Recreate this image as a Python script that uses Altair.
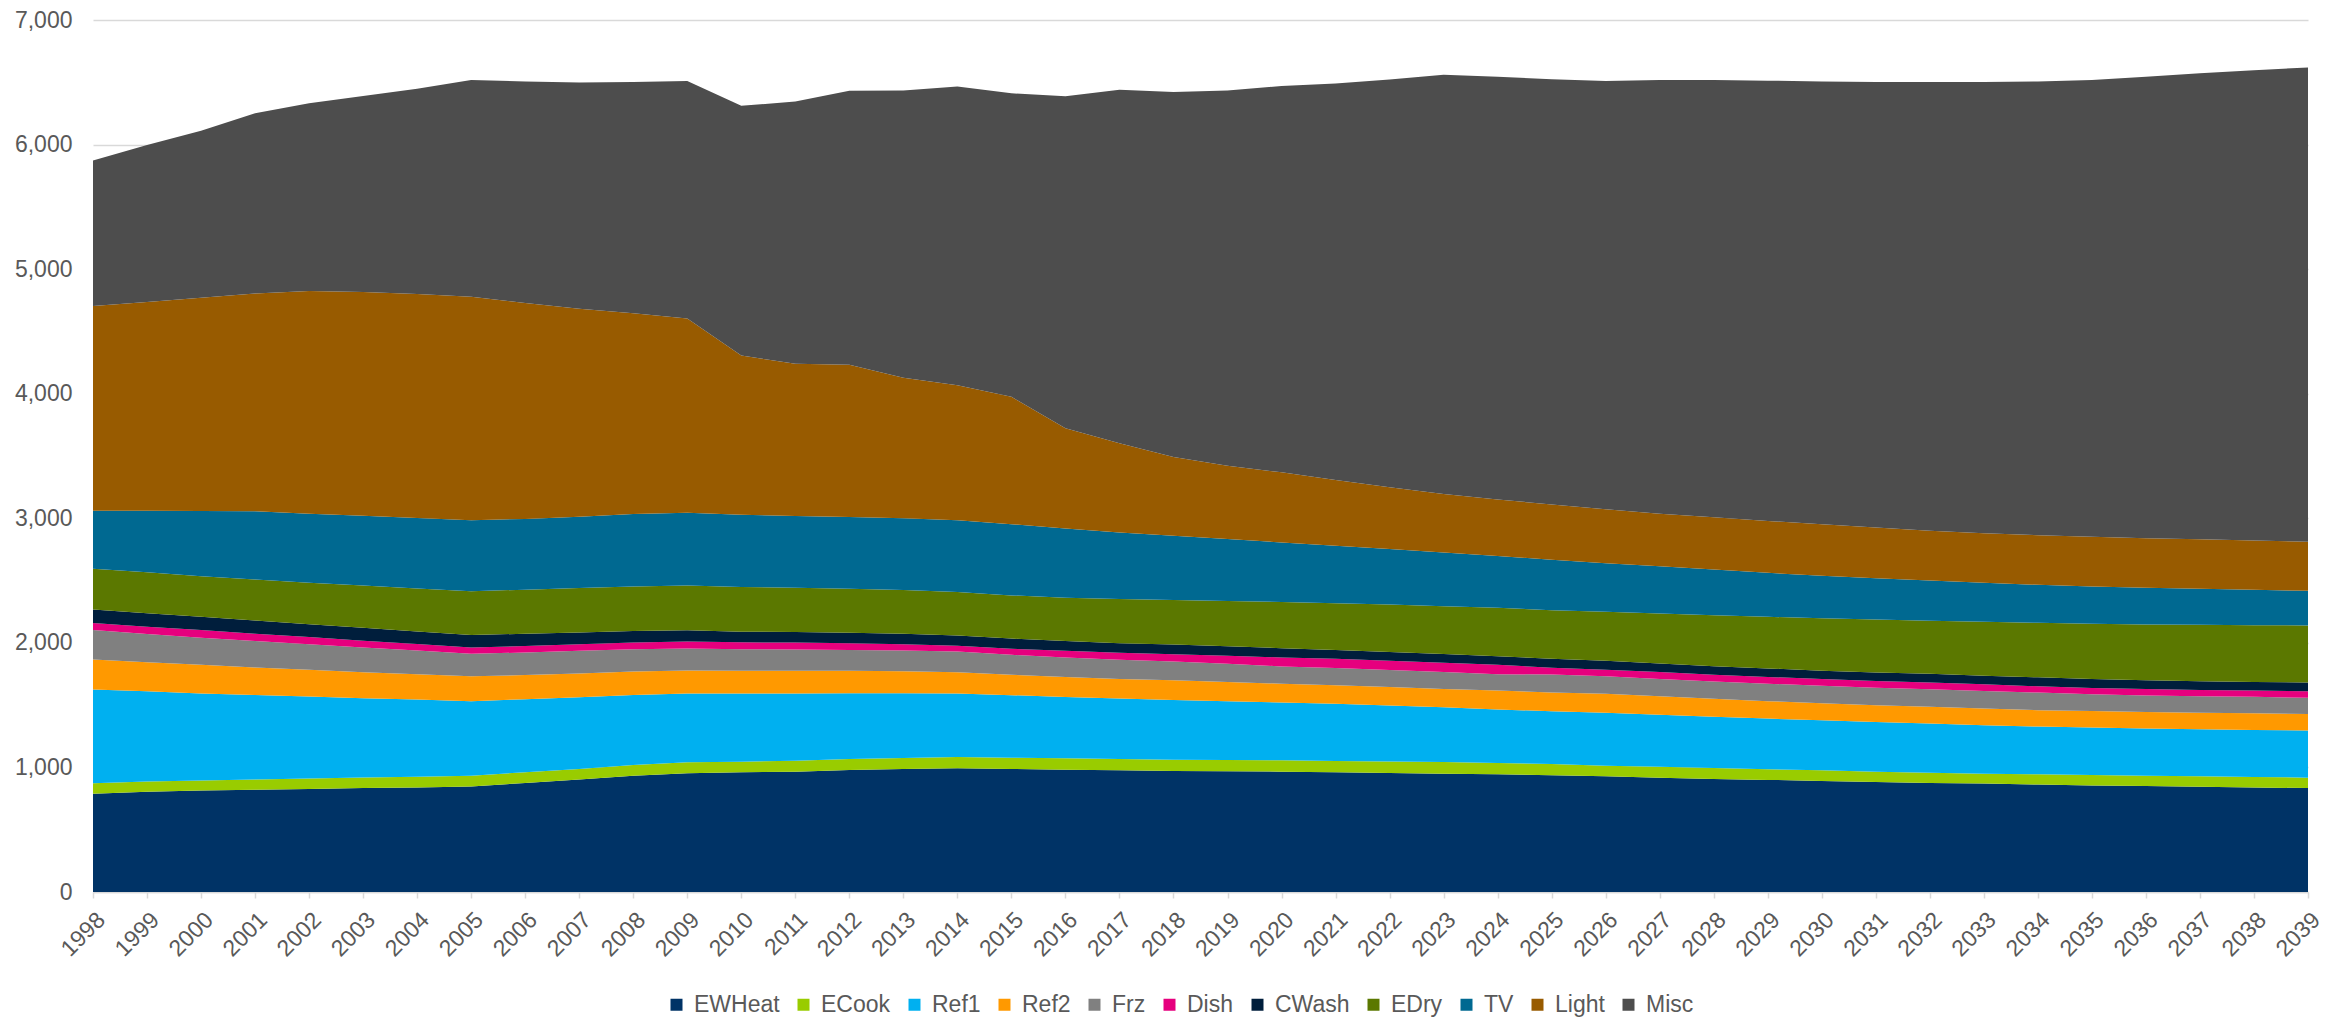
import altair as alt
import pandas as pd

YEARS = list(range(1998, 2040))
SERIES = ["EWHeat", "ECook", "Ref1", "Ref2", "Frz", "Dish", "CWash", "EDry", "TV", "Light", "Misc"]
COLORS = ["#003366", "#99CC00", "#00B0F0", "#FF9900", "#808080", "#E6007E",
          "#001E3C", "#5B7800", "#006991", "#985B00", "#4D4D4D"]
Y_TICKS = [0, 1000, 2000, 3000, 4000, 5000, 6000, 7000]

# Upper edge of each stacked layer (cumulative total), 1998..2039
EWHEAT_TOP = [788, 804, 815, 820, 826, 834, 839, 847, 876, 903, 934, 953, 961,
              966, 980, 988, 993, 988, 982, 977, 972, 969, 966, 961, 956, 950, 945, 937,
              929, 918, 908, 900, 892, 884, 876, 871, 863, 855, 850, 844, 839, 834]
ECOOK_TOP = [873, 887, 895, 903, 911, 919, 926, 934, 961, 988, 1019, 1041, 1046,
             1054, 1068, 1076, 1084, 1078, 1073, 1068, 1062, 1060, 1057, 1052, 1047, 1044, 1036, 1028,
             1014, 1006, 996, 985, 977, 966, 958, 950, 945, 940, 934, 929, 924, 918]
REF1_TOP = [1625, 1611, 1593, 1582, 1569, 1556, 1545, 1532, 1548, 1564, 1582, 1593, 1593,
            1593, 1596, 1596, 1593, 1580, 1566, 1553, 1542, 1532, 1521, 1511, 1497, 1484, 1466, 1450,
            1439, 1423, 1407, 1392, 1378, 1365, 1352, 1338, 1328, 1320, 1312, 1306, 1301, 1296]
REF2_TOP = [1866, 1845, 1824, 1803, 1784, 1765, 1749, 1731, 1742, 1755, 1771, 1779, 1776,
            1776, 1776, 1773, 1765, 1744, 1726, 1710, 1699, 1686, 1672, 1659, 1646, 1630, 1617, 1601,
            1591, 1572, 1551, 1532, 1516, 1500, 1487, 1474, 1460, 1452, 1444, 1439, 1434, 1428]
FRZ_TOP = [2103, 2071, 2042, 2015, 1989, 1962, 1938, 1912, 1923, 1936, 1949, 1954, 1949,
           1946, 1943, 1938, 1930, 1904, 1883, 1864, 1851, 1832, 1811, 1798, 1782, 1766, 1749, 1745,
           1731, 1710, 1689, 1672, 1656, 1640, 1627, 1614, 1601, 1588, 1577, 1572, 1567, 1559]
DISH_TOP = [2159, 2129, 2103, 2073, 2047, 2017, 1991, 1962, 1975, 1988, 2002, 2010, 2004,
            2002, 1997, 1989, 1976, 1952, 1936, 1920, 1909, 1896, 1883, 1872, 1856, 1840, 1824, 1800,
            1784, 1766, 1744, 1726, 1710, 1694, 1681, 1667, 1651, 1638, 1630, 1622, 1617, 1611]
CWASH_TOP = [2267, 2238, 2209, 2180, 2150, 2121, 2092, 2063, 2073, 2084, 2095, 2102, 2089,
             2087, 2082, 2074, 2060, 2034, 2015, 1996, 1986, 1973, 1957, 1943, 1927, 1911, 1893, 1872,
             1856, 1835, 1813, 1795, 1776, 1763, 1752, 1736, 1723, 1710, 1699, 1691, 1686, 1681]
EDRY_TOP = [2594, 2567, 2535, 2509, 2482, 2461, 2437, 2414, 2427, 2440, 2453, 2461, 2448,
            2443, 2435, 2424, 2408, 2381, 2363, 2352, 2344, 2336, 2328, 2318, 2307, 2294, 2281, 2262,
            2249, 2235, 2222, 2209, 2198, 2187, 2177, 2169, 2161, 2153, 2148, 2145, 2142, 2140]
TV_TOP = [3061, 3061, 3058, 3056, 3037, 3021, 3002, 2985, 2995, 3013, 3034, 3045, 3029,
          3019, 3011, 3000, 2984, 2952, 2918, 2886, 2859, 2833, 2806, 2780, 2753, 2726, 2697, 2668,
          2639, 2615, 2588, 2562, 2538, 2519, 2500, 2482, 2466, 2453, 2442, 2434, 2426, 2418]
LIGHT_TOP = [4704, 4736, 4771, 4805, 4824, 4816, 4800, 4779, 4728, 4683, 4646, 4604, 4306,
             4240, 4232, 4129, 4067, 3975, 3722, 3603, 3491, 3422, 3369, 3308, 3250, 3195, 3151, 3111,
             3072, 3037, 3008, 2979, 2952, 2926, 2899, 2880, 2864, 2851, 2840, 2832, 2821, 2811]
MISC_TOP = [5872, 5997, 6111, 6252, 6332, 6390, 6449, 6518, 6507, 6499, 6502, 6510, 6311,
            6345, 6432, 6435, 6467, 6411, 6388, 6440, 6422, 6435, 6470, 6491, 6523, 6560, 6544, 6525,
            6510, 6518, 6518, 6513, 6507, 6502, 6502, 6502, 6507, 6518, 6544, 6573, 6597, 6619]

TOPS = [EWHEAT_TOP, ECOOK_TOP, REF1_TOP, REF2_TOP, FRZ_TOP, DISH_TOP,
        CWASH_TOP, EDRY_TOP, TV_TOP, LIGHT_TOP, MISC_TOP]

rows = []
for i, (name, top) in enumerate(zip(SERIES, TOPS)):
    below = TOPS[i - 1] if i > 0 else [0] * len(YEARS)
    for yr, lo, hi in zip(YEARS, below, top):
        rows.append({"year": yr, "series": name, "lo": lo, "hi": hi})
df = pd.DataFrame(rows)

LABEL_COLOR = "#595959"
GRID_COLOR = "#D9D9D9"

chart = alt.Chart(df).mark_area(interpolate="linear", strokeWidth=0).encode(
    x=alt.X("year:Q",
            scale=alt.Scale(domain=[1998, 2039], nice=False, zero=False),
            axis=alt.Axis(values=YEARS, format="d", title=None, grid=False,
                          labelAngle=-45, labelAlign="right", labelBaseline="middle",
                          labelFontSize=23, labelColor=LABEL_COLOR,
                          labelPadding=18, labelOffset=8, labelOverlap=False,
                          tickColor=GRID_COLOR, tickSize=6, tickWidth=1.5,
                          domainColor=GRID_COLOR, domainWidth=1.5)),
    y=alt.Y("lo:Q",
            scale=alt.Scale(domain=[0, 7000], nice=False),
            axis=alt.Axis(values=Y_TICKS, format=",d", title=None, grid=True,
                          gridColor=GRID_COLOR, gridWidth=1.3,
                          ticks=False, domain=False,
                          labelFontSize=23, labelColor=LABEL_COLOR, labelPadding=21)),
    y2="hi:Q",
    color=alt.Color("series:N",
                    scale=alt.Scale(domain=SERIES, range=COLORS),
                    legend=alt.Legend(orient="none", legendX=572, legendY=973,
                                      direction="horizontal", title=None,
                                      symbolType="square", symbolSize=144,
                                      symbolStrokeWidth=0, symbolOpacity=1,
                                      labelFontSize=23, labelColor=LABEL_COLOR,
                                      labelOffset=6, columnPadding=12, padding=0)),
).properties(
    width=2215, height=872,
    autosize=alt.AutoSizeParams(type="none"),
    padding={"left": 85, "top": 12, "right": 22, "bottom": 128},
).configure(
    font="Liberation Sans",
).configure_view(stroke=None)

chart.save("out.html", embed_options={"renderer": "svg", "actions": False})
